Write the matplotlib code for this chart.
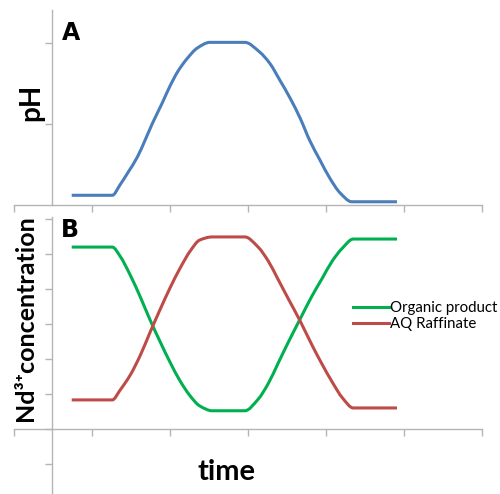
import matplotlib
matplotlib.use("Agg")
import numpy as np
import matplotlib.pyplot as plt
from matplotlib.path import Path
from matplotlib.patches import PathPatch
from matplotlib.lines import Line2D

plt.rcParams['font.family'] = ['Lato', 'DejaVu Sans']

# panel A: pH vs time
t_ph = [0.74, 1.26, 1.36, 1.46, 1.58, 1.68, 1.78, 1.90, 2.00, 2.10, 2.22, 2.35,
        2.51, 2.96, 3.15, 3.28, 3.41, 3.54, 3.67, 3.79, 3.92, 4.05, 4.18, 4.33,
        4.91]
ph = [0.12, 0.12, 0.25, 0.40, 0.59, 0.80, 1.02, 1.26, 1.47, 1.65, 1.81, 1.94,
      2.01, 2.01, 1.89, 1.75, 1.54, 1.32, 1.07, 0.80, 0.56, 0.33, 0.15, 0.04,
      0.04]

# panel B: Nd3+ concentration vs time
t_nd = [0.74, 1.26, 1.36, 1.49, 1.62, 1.74, 1.87, 2.00, 2.13, 2.26, 2.38, 2.54,
        2.96, 3.13, 3.26, 3.38, 3.51, 3.67, 3.82, 3.95, 4.08, 4.21, 4.35, 4.91]
organic = [5.20, 5.20, 4.94, 4.40, 3.77, 3.14, 2.51, 1.91, 1.37, 0.94, 0.66, 0.52,
           0.52, 0.85, 1.30, 1.85, 2.45, 3.15, 3.80, 4.30, 4.80, 5.17, 5.43, 5.43]
raffinate = [0.83, 0.83, 1.11, 1.54, 2.11, 2.74, 3.40, 4.03, 4.60, 5.09, 5.40, 5.49,
             5.49, 5.20, 4.80, 4.30, 3.75, 3.08, 2.40, 1.85, 1.34, 0.89, 0.60, 0.60]

grey = '#b4b4b4'
blue, green, red = '#4a7ebb', '#00b050', '#be4b48'
W, H = 500, 494
fig = plt.figure(figsize=(5.0, 4.94), dpi=100)


def smooth_line(ax, x, y, color):
    # smoothed line like Excel: cubic bezier through the points
    x = np.asarray(x, float)
    y = np.asarray(y, float)
    d = np.diff(y) / np.diff(x)
    m = np.zeros(len(x))
    for i in range(1, len(x) - 1):
        if d[i - 1] * d[i] > 0:
            m[i] = 2.0 / (1.0 / d[i - 1] + 1.0 / d[i])
    verts = [(x[0], y[0])]
    codes = [Path.MOVETO]
    for i in range(len(x) - 1):
        h = (x[i + 1] - x[i]) / 3.0
        verts += [(x[i] + h, y[i] + h * m[i]),
                  (x[i + 1] - h, y[i + 1] - h * m[i + 1]),
                  (x[i + 1], y[i + 1])]
        codes += [Path.CURVE4] * 3
    ax.add_patch(PathPatch(Path(verts, codes), fill=False, edgecolor=color,
                           lw=2.2, capstyle='butt', joinstyle='round'))


def style(ax, yticks):
    for s in ['top', 'right']:
        ax.spines[s].set_visible(False)
    ax.spines['left'].set_position(('data', 0.487))
    ax.spines['bottom'].set_position(('data', 0))
    for s in ['left', 'bottom']:
        ax.spines[s].set_color(grey)
        ax.spines[s].set_linewidth(1.0)
    ax.set_xlim(0, 6)
    ax.set_xticks(range(7))
    ax.set_yticks(yticks)
    ax.set_xticklabels([])
    ax.set_yticklabels([])
    ax.tick_params(direction='out', length=5, width=1.0, color=grey)
    ax.patch.set_visible(False)


# top panel
ax1 = fig.add_axes([14 / W, 1 - 205 / H, 468 / W, 195 / H])
smooth_line(ax1, t_ph, ph, blue)
ax1.set_ylim(0, 2.41)
style(ax1, [1, 2])

# bottom panel
ax2 = fig.add_axes([14 / W, 0, 468 / W, 277 / H])
smooth_line(ax2, t_nd, organic, green)
smooth_line(ax2, t_nd, raffinate, red)
ax2.set_ylim(-1.86, 6.06)
style(ax2, list(range(-1, 7)))
handles = [Line2D([], [], color=green, lw=2.2), Line2D([], [], color=red, lw=2.2)]
ax2.legend(handles, ['Organic product', 'AQ Raffinate'], loc='center left',
           bbox_to_anchor=(353 / W, 1 - 316 / H), bbox_transform=fig.transFigure,
           frameon=False, fontsize=10.8, handlelength=2.4, handletextpad=0.1,
           labelspacing=0.12, borderaxespad=0, borderpad=0)

fig.text(71 / W, 1 - 33 / H, 'A', fontsize=17, fontweight='bold',
         ha='center', va='center', family=['DejaVu Sans'])
fig.text(70 / W, 1 - 230 / H, 'B', fontsize=17, fontweight='bold',
         ha='center', va='center', family=['DejaVu Sans'])
fig.text(31 / W, 1 - 102 / H, 'pH', fontsize=20, fontweight='bold',
         rotation=90, ha='center', va='center')
fig.text(26 / W, 1 - 318 / H, 'Nd³⁺concentration', fontsize=18,
         fontweight='bold', rotation=90, ha='center', va='center',
         family=['Lato', 'DejaVu Sans'])
fig.text(227 / W, 1 - 472 / H, 'time', fontsize=21, fontweight='bold',
         ha='center', va='center')

fig.savefig('out.png', dpi=100)
